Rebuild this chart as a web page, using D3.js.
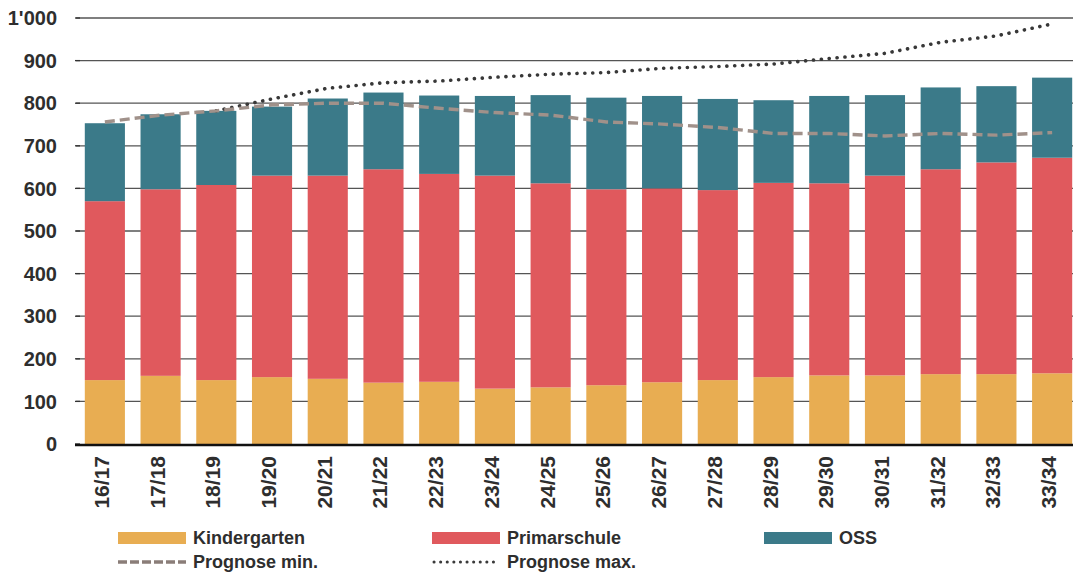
<!DOCTYPE html>
<html><head><meta charset="utf-8">
<script src="https://cdn.jsdelivr.net/npm/d3@7"></script>
<style>
html,body{margin:0;padding:0;background:#fff;}
svg{display:block;font-family:"Liberation Sans",Arial,sans-serif;}
</style></head>
<body>
<svg id="c" width="1073" height="576"></svg>
<script>
const categories = ["16/17","17/18","18/19","19/20","20/21","21/22","22/23","23/24","24/25","25/26","26/27","27/28","28/29","29/30","30/31","31/32","32/33","33/34"];
const kindergarten = [150,160,150,157,153,144,146,130,133,138,145,150,157,161,161,164,164,166];
const primarschule = [420,438,458,473,477,501,488,500,479,460,455,446,456,451,469,481,497,506];
const oss = [183,176,174,162,181,180,184,187,207,215,217,214,194,205,189,192,179,188];
const prognoseMin = [756,772,782,796,800,800,788,778,772,756,751,743,729,729,723,729,725,731];
const prognoseMax = [null,null,782,810,835,848,852,861,868,872,882,886,892,905,917,943,958,986];
const yTicks = [0,100,200,300,400,500,600,700,800,900,1000];
const seriesNames = ["Kindergarten","Primarschule","OSS"];
const colors = {Kindergarten:"#E8AD52", Primarschule:"#E0595D", OSS:"#3B7A89"};

const svg = d3.select("#c");
const x = d3.scaleBand().domain(categories).range([77,1080]).paddingInner(0.28).paddingOuter(0.14);
const y = d3.scaleLinear().domain([0,1000]).range([444,18]);

// gridlines
const grid = svg.append("g");
grid.selectAll("line").data(yTicks.filter(d=>d>0)).join("line")
  .attr("x1",76).attr("x2",1073).attr("y1",d=>y(d)).attr("y2",d=>y(d))
  .attr("stroke","#555").attr("stroke-width",1.3);

// stacked bars
const table = categories.map((c,i)=>({cat:c, Kindergarten:kindergarten[i], Primarschule:primarschule[i], OSS:oss[i]}));
const stack = d3.stack().keys(seriesNames)(table);
svg.append("g").selectAll("g").data(stack).join("g")
  .attr("fill",d=>colors[d.key])
  .selectAll("rect").data(d=>d).join("rect")
  .attr("x",d=>x(d.data.cat)).attr("width",x.bandwidth())
  .attr("y",d=>y(d[1])).attr("height",d=>y(d[0])-y(d[1]));

// y axis labels and ticks
const yAxis = svg.append("g");
yAxis.selectAll("line").data(yTicks).join("line")
  .attr("x1",75).attr("x2",80).attr("y1",d=>y(d)).attr("y2",d=>y(d))
  .attr("stroke","#333").attr("stroke-width",1.3);
yAxis.selectAll("text").data(yTicks).join("text")
  .attr("x",57).attr("y",d=>y(d)).attr("dy","0.36em")
  .attr("text-anchor","end").attr("font-size",20).attr("font-weight","bold").attr("fill","#2e2e2e")
  .text(d=>d===1000?"1'000":String(d));

// baseline
svg.append("line").attr("x1",75).attr("x2",1073).attr("y1",y(0)+1).attr("y2",y(0)+1)
  .attr("stroke","#111").attr("stroke-width",2.5);

// x labels
svg.append("g").selectAll("text").data(categories).join("text")
  .attr("transform",d=>`translate(${x(d)+x.bandwidth()/2+4},456) rotate(-90)`)
  .attr("text-anchor","end").attr("font-size",21).attr("font-weight","bold").attr("fill","#2e2e2e")
  .text(d=>d);

// lines
const cx = c => x(c)+x.bandwidth()/2;
const lineGen = d3.line().defined(d=>d!==null).x((d,i)=>cx(categories[i])).y(d=>y(d));
svg.append("path").datum(prognoseMax).attr("d",lineGen).attr("fill","none")
  .attr("stroke","#383838").attr("stroke-width",3.6).attr("stroke-linecap","round")
  .attr("stroke-dasharray","0.1 7.8");
svg.append("path").datum(prognoseMin).attr("d",lineGen).attr("fill","none")
  .attr("stroke","#a0918a").attr("stroke-width",3.4).attr("stroke-dasharray","10 5");

// legend
const leg = svg.append("g");
const legItems = [
  {name:"Kindergarten", type:"rect", x:118, y:538},
  {name:"Primarschule", type:"rect", x:432, y:538},
  {name:"OSS", type:"rect", x:764, y:538},
  {name:"Prognose min.", type:"min", x:118, y:562},
  {name:"Prognose max.", type:"max", x:432, y:562}
];
legItems.forEach(it=>{
  if(it.type==="rect"){
    leg.append("rect").attr("x",it.x).attr("y",it.y-6).attr("width",68).attr("height",12).attr("fill",colors[it.name]);
  } else if(it.type==="min"){
    leg.append("line").attr("x1",it.x).attr("x2",it.x+68).attr("y1",it.y).attr("y2",it.y)
      .attr("stroke","#8a7d78").attr("stroke-width",3.5).attr("stroke-dasharray","9 3");
  } else {
    leg.append("line").attr("x1",it.x+2).attr("x2",it.x+68).attr("y1",it.y).attr("y2",it.y)
      .attr("stroke","#3a3a3a").attr("stroke-width",3).attr("stroke-linecap","round").attr("stroke-dasharray","0.1 6.5");
  }
  leg.append("text").attr("x",it.x+75).attr("y",it.y).attr("dy","0.36em")
    .attr("font-size",18).attr("font-weight","bold").attr("fill","#2e2e2e").text(it.name);
});
</script>
</body></html>
